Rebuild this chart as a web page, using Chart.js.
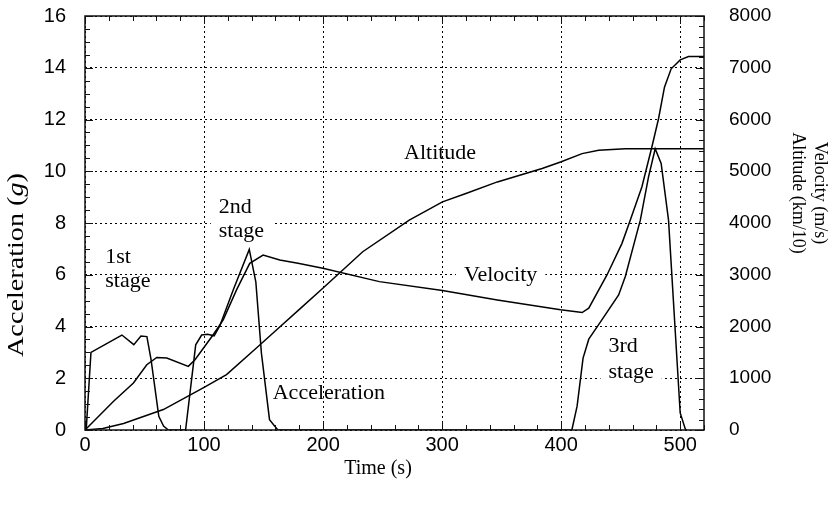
<!DOCTYPE html>
<html>
<head>
<meta charset="utf-8">
<script src="https://cdn.jsdelivr.net/npm/chart.js@4.4.1/dist/chart.umd.min.js"></script>
<style>
  html, body { margin: 0; padding: 0; background: #fff; }
  #wrap { width: 836px; height: 506px; }
</style>
</head>
<body>
<div id="wrap"><canvas id="c" width="836" height="506"></canvas></div>
<script>
// ---- data (time in s) ----
const accelTime = [1, 5, 31, 41, 47, 52, 55.5, 62, 66, 70, 84.5, 93, 98, 103, 108.5, 113.3, 124.5, 138, 143.5, 148.2, 155, 162, 409, 413.4, 418.4, 423.2, 431.5, 448.3, 453.9, 466.5, 473.4, 479, 484, 490.2, 500, 504.2, 505];
const accelG    = [0, 3.0, 3.67, 3.3, 3.63, 3.61, 2.72, 0.53, 0.15, 0, 0, 3.29, 3.67, 3.7, 3.64, 4.03, 5.41, 6.98, 5.73, 2.97, 0.4, 0, 0, 0.92, 2.78, 3.51, 4.07, 5.22, 5.93, 8.11, 9.78, 10.87, 10.3, 8.11, 0.66, 0.05, 0];

const velTime = [0, 24, 40.7, 51.9, 60.3, 68.7, 86.8, 92.4, 107.7, 116.1, 127.3, 138.4, 149.6, 163.6, 178.9, 199.8, 247.3, 300.3, 346.4, 399.5, 417.6, 423.2, 438.5, 451.1, 458.1, 467.8, 476.2, 481.8, 486.8, 492.4, 500, 507, 520];
const velMs   = [0, 555, 909, 1262, 1403, 1391, 1229, 1358, 1840, 2129, 2707, 3221, 3381, 3285, 3221, 3125, 2867, 2694, 2514, 2322, 2270, 2354, 2996, 3607, 4056, 4697, 5468, 6015, 6624, 6979, 7152, 7216, 7216];

const altTime = [0, 15, 32.4, 65.8, 99.3, 118.9, 144, 163.6, 180.3, 199.8, 233.3, 272.4, 300.3, 320, 346.4, 384, 399.5, 417.6, 431.5, 453.9, 520];
const altKm10 = [0, 30, 125, 395, 813, 1069, 1584, 1990, 2335, 2740, 3445, 4056, 4408, 4570, 4794, 5052, 5179, 5341, 5405, 5437, 5437];

const timeTicks  = [0, 100, 200, 300, 400, 500];
const accelTicks = [0, 2, 4, 6, 8, 10, 12, 14, 16];
const rightTicks = [0, 1000, 2000, 3000, 4000, 5000, 6000, 7000, 8000];

// ---- annotation labels (anchored in data units: time, acceleration) ----
const labelTexts = ['1st', 'stage', '2nd', 'stage', 'Altitude', 'Velocity', 'Acceleration', '3rd', 'stage'];
const labelTime  = [17, 17, 112.4, 112.4, 268, 318.4, 157.7, 439.8, 439.8];
const labelAccel = [6.69, 5.76, 8.61, 7.69, 10.69, 5.99, 1.41, 3.22, 2.25];
const labelBg    = [false, false, false, true, false, true, false, false, true];

const toPts = (xs, ys) => xs.map((x, i) => ({ x: x, y: ys[i] }));

const SANS = '"Liberation Sans", Arial, sans-serif';
const SERIF = '"Liberation Serif", "Times New Roman", serif';

const annFont = '22px ' + SERIF;

const decor = {
  id: 'decor',
  beforeDatasetsDraw(chart) {
    const ctx = chart.ctx, xs = chart.scales.x, ys = chart.scales.y;
    ctx.save();
    ctx.font = annFont;
    ctx.fillStyle = '#fff';
    labelTexts.forEach((t, i) => {
      if (!labelBg[i]) return;
      const px = xs.getPixelForValue(labelTime[i]);
      const py = ys.getPixelForValue(labelAccel[i]);
      const w = ctx.measureText(t).width;
      ctx.fillRect(px - 8, py - 9, w + 16, 18);
    });
    ctx.restore();
  },
  afterDraw(chart) {
    const ctx = chart.ctx, a = chart.chartArea;
    const xs = chart.scales.x, ys = chart.scales.y, y2 = chart.scales.y2;
    ctx.save();
    // frame
    ctx.strokeStyle = '#111';
    ctx.lineWidth = 1.5;
    ctx.strokeRect(a.left, a.top, a.right - a.left, a.bottom - a.top);
    // inward ticks
    ctx.lineWidth = 1;
    ctx.beginPath();
    for (let v = 0; v <= 520; v += 20) {
      const px = Math.round(xs.getPixelForValue(v)) + 0.5;
      const len = (v % 100 === 0) ? 8 : 5;
      ctx.moveTo(px, a.bottom); ctx.lineTo(px, a.bottom - len);
      ctx.moveTo(px, a.top); ctx.lineTo(px, a.top + len);
    }
    for (let v = 0; v <= 16; v += 0.5) {
      const py = Math.round(ys.getPixelForValue(v)) + 0.5;
      const len = (v % 2 === 0) ? 8 : 5;
      ctx.moveTo(a.left, py); ctx.lineTo(a.left + len, py);
    }
    for (let v = 0; v <= 8000; v += 200) {
      const py = Math.round(y2.getPixelForValue(v)) + 0.5;
      const len = (v % 1000 === 0) ? 8 : 5;
      ctx.moveTo(a.right, py); ctx.lineTo(a.right - len, py);
    }
    ctx.stroke();

    // annotations
    ctx.fillStyle = '#000';
    ctx.font = annFont;
    ctx.textAlign = 'left';
    ctx.textBaseline = 'middle';
    labelTexts.forEach((t, i) => {
      ctx.fillText(t, xs.getPixelForValue(labelTime[i]), ys.getPixelForValue(labelAccel[i]));
    });

    // x title
    ctx.font = '20px ' + SERIF;
    ctx.textAlign = 'center';
    ctx.fillText('Time (s)', 378, 469);

    // left title (rotated ccw) with italic g
    ctx.save();
    ctx.translate(17, 265);
    ctx.rotate(-Math.PI / 2);
    const p1 = 'Acceleration (', p2 = 'g', p3 = ')';
    const F = 24;
    ctx.font = F + 'px ' + SERIF;
    const w1 = ctx.measureText(p1).width, w3 = ctx.measureText(p3).width;
    ctx.font = 'italic ' + F + 'px ' + SERIF;
    const w2 = ctx.measureText(p2).width;
    const tot = w1 + w2 + w3;
    ctx.scale(184 / tot, 1);
    let sx = -tot / 2;
    ctx.textAlign = 'left';
    ctx.font = F + 'px ' + SERIF; ctx.fillText(p1, sx, 0); sx += w1;
    ctx.font = 'italic ' + F + 'px ' + SERIF; ctx.fillText(p2, sx, 0); sx += w2;
    ctx.font = F + 'px ' + SERIF; ctx.fillText(p3, sx, 0);
    ctx.restore();

    // right title (rotated cw, two lines)
    ctx.save();
    ctx.font = '18px ' + SERIF;
    ctx.textAlign = 'center';
    ctx.translate(820, 193);
    ctx.rotate(Math.PI / 2);
    ctx.fillText('Velocity (m/s)', 0, 0);
    ctx.fillText('Altitude (km/10)', 0, 22);
    ctx.restore();

    ctx.restore();
  }
};

const lineStyle = { borderColor: '#000', borderWidth: 1.5, pointRadius: 0, showLine: true, fill: false, tension: 0 };
const plainNum = v => String(v);

new Chart(document.getElementById('c'), {
  type: 'scatter',
  data: {
    datasets: [
      Object.assign({ label: 'Acceleration', data: toPts(accelTime, accelG), yAxisID: 'y' }, lineStyle),
      Object.assign({ label: 'Velocity', data: toPts(velTime, velMs), yAxisID: 'y2' }, lineStyle),
      Object.assign({ label: 'Altitude', data: toPts(altTime, altKm10), yAxisID: 'y2' }, lineStyle)
    ]
  },
  options: {
    responsive: false,
    animation: false,
    events: [],
    layout: { padding: { top: 16, left: 0, right: 0, bottom: 0 } },
    plugins: { legend: { display: false }, tooltip: { enabled: false } },
    scales: {
      x: {
        type: 'linear', min: 0, max: 520,
        afterBuildTicks: s => { s.ticks = timeTicks.map(v => ({ value: v })); },
        afterFit: s => { s.height = 76; s.paddingLeft = 0; s.paddingRight = 0; },
        ticks: { color: '#000', font: { family: SANS, size: 20 }, padding: 3, maxRotation: 0, callback: plainNum },
        grid: { color: '#000', lineWidth: 1, drawTicks: false },
        border: { display: false, dash: [2, 3] }
      },
      y: {
        type: 'linear', position: 'left', min: 0, max: 16,
        afterBuildTicks: s => { s.ticks = accelTicks.map(v => ({ value: v })); },
        afterFit: s => { s.width = 85; s.paddingTop = 0; s.paddingBottom = 0; },
        ticks: { color: '#000', font: { family: SANS, size: 20 }, padding: 19, callback: plainNum },
        grid: { color: '#000', lineWidth: 1, drawTicks: false },
        border: { display: false, dash: [2, 3] }
      },
      y2: {
        type: 'linear', position: 'right', min: 0, max: 8000,
        afterBuildTicks: s => { s.ticks = rightTicks.map(v => ({ value: v })); },
        afterFit: s => { s.width = 132; s.paddingTop = 0; s.paddingBottom = 0; },
        ticks: { color: '#000', font: { family: SANS, size: 19 }, padding: 25, callback: plainNum },
        grid: { display: false, drawTicks: false },
        border: { display: false }
      }
    }
  },
  plugins: [decor]
});
</script>
</body>
</html>
